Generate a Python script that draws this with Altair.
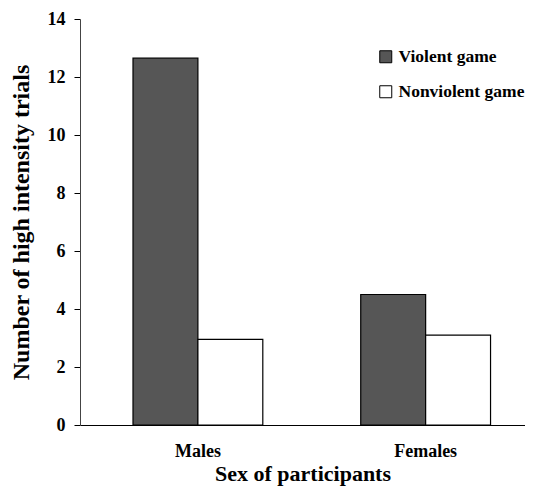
import altair as alt
import pandas as pd

# ---- data ----
sexes = ["Males", "Females"]
conditions = ["Violent game", "Nonviolent game"]
violent = [12.65, 4.5]
nonviolent = [2.95, 3.1]
y_ticks = [0, 2, 4, 6, 8, 10, 12, 14]

rows = []
for s, v, n in zip(sexes, violent, nonviolent):
    rows.append({"Sex": s, "Condition": conditions[0], "Trials": v})
    rows.append({"Sex": s, "Condition": conditions[1], "Trials": n})
df = pd.DataFrame(rows)

FONT = "Liberation Serif"

chart = (
    alt.Chart(df)
    .mark_bar(stroke="black", strokeWidth=1.2)
    .encode(
        x=alt.X(
            "Sex:N",
            sort=sexes,
            title="Sex of participants",
            scale=alt.Scale(paddingInner=0.43, paddingOuter=0.192, align=0.606),
            axis=alt.Axis(labelAngle=0, ticks=False, labelPadding=17, titlePadding=3,
                          titleFontSize=22,
                          domainColor="black", domainWidth=1),
        ),
        xOffset=alt.XOffset("Condition:N", sort=conditions,
                            scale=alt.Scale(paddingInner=0, paddingOuter=0)),
        y=alt.Y(
            "Trials:Q",
            title="Number of high intensity trials",
            scale=alt.Scale(domain=[0, 14]),
            axis=alt.Axis(values=y_ticks, tickSize=6, labelPadding=9, titlePadding=14,
                          titleFontSize=24,
                          grid=False, domainColor="#444444", tickColor="black"),
        ),
        color=alt.Color(
            "Condition:N",
            sort=conditions,
            scale=alt.Scale(domain=conditions, range=["#565656", "#ffffff"]),
            legend=alt.Legend(
                title=None, orient="none", legendX=297, legendY=29,
                symbolType="square", symbolSize=144, symbolStrokeColor="black",
                symbolStrokeWidth=1, symbolOpacity=1, labelOffset=4,
                labelFont=FONT, labelFontSize=17.5, labelFontWeight="bold",
                labelColor="black", rowPadding=16,
            ),
        ),
    )
    .properties(
        width=445, height=406,
        autosize=alt.AutoSizeParams(type="none"),
        padding={"left": 72, "top": 11, "right": 0, "bottom": 63},
    )
    .configure_view(stroke=None)
    .configure_axis(
        labelFont=FONT, labelFontSize=18, labelFontWeight="bold", labelColor="black",
        titleFont=FONT, titleFontSize=23, titleFontWeight="bold", titleColor="black",
    )
)

chart.save("out.html", embed_options={"renderer": "svg", "actions": False})
